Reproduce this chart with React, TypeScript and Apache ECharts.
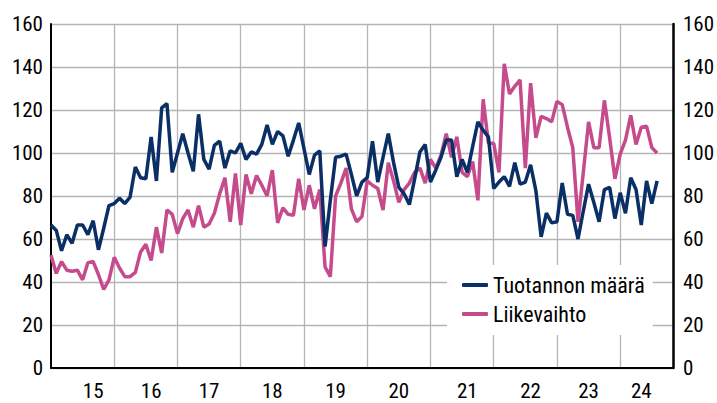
import React, { useEffect, useRef } from "react";
import * as echarts from "echarts";

const startYear = 2015;
const monthCount = 119;
const categories: string[] = Array.from(
  { length: monthCount },
  (_, i) => `${startYear + Math.floor(i / 12)}-${String((i % 12) + 1).padStart(2, "0")}`
);

const yearLabels = ["15", "16", "17", "18", "19", "20", "21", "22", "23", "24"];
const yearLabelIndex = [8, 19, 30, 42, 54, 66, 79, 91, 102, 112];

const seriesNames = ["Tuotannon määrä", "Liikevaihto"];

const tuotannonMaara = [
  66.5, 64, 54.5, 62, 58, 66.5, 66.5, 62, 68.5, 55, 65, 75.5,
  76.5, 79, 76.5, 79.5, 93.5, 88.5, 88, 107.5, 87, 121, 123, 91,
  100, 109, 100, 91.5, 118, 97, 92.5, 103.5, 105.5, 93, 101, 100,
  104.5, 97, 100.5, 99.5, 104, 113, 104, 110, 108, 98.5, 106, 114,
  102, 90, 99, 101, 56.5, 78, 98, 98.5, 99.5, 90, 80, 86.5,
  88.5, 105.5, 86.5, 98, 109, 95.5, 84, 81, 76, 88, 100.5, 104,
  86.5, 92, 98, 106, 106, 89, 97, 91, 103, 114.5, 110.5, 107.5,
  83.5, 86.5, 89, 84.5, 95.5, 85.5, 86.5, 94.5, 82.5, 61, 72, 67.5,
  68, 86, 71.5, 71, 60, 73, 85.5, 77, 68, 83, 84, 69.5,
  81.5, 72, 88.5, 83, 66.5, 87, 76.5, 87,
];

const liikevaihto = [
  52.5, 44, 49.5, 45.5, 45, 45.5, 41, 49, 49.5, 43.5, 36.5, 41,
  51.5, 46.5, 42.5, 42.5, 44.5, 54, 57.5, 50, 65.5, 53.5, 73.5, 71.5,
  62.5, 69.5, 73.5, 65.5, 75.5, 65.5, 67, 72, 81, 88.5, 68, 90.5,
  66.5, 90, 81, 89.5, 85, 80, 92, 67.5, 74.5, 71.5, 71, 88,
  73.5, 85, 74, 83, 47, 42.5, 80, 86, 93, 74, 68, 70.5,
  87, 85, 83.5, 73.5, 95.5, 87, 77, 83, 86, 91, 93, 86,
  97, 93, 99, 109, 98, 107.5, 91, 89, 96, 78, 125, 104.5,
  104.5, 91, 141.5, 127.5, 131, 134, 93, 132.5, 107, 117, 116, 114.5,
  124, 122.5, 112, 102.5, 68, 91, 114.5, 102.5, 102.5, 124.5, 107, 88,
  99.5, 106, 117.5, 104, 112, 112.5, 102.5, 100,
];

const navy = "#0a2f66";
const pink = "#c64b8c";
const gridGrey = "#b5b5b5";
const font = "'Liberation Sans Narrow', 'Roboto Condensed', 'DejaVu Sans Condensed', sans-serif";

export default function App() {
  const ref = useRef<HTMLDivElement>(null);

  useEffect(() => {
    document.body.style.margin = "0";
    if (!ref.current) return;
    const chart = echarts.init(ref.current, undefined, { renderer: "svg" });
    const yAxisCommon = {
      type: "value" as const,
      min: 0,
      max: 160,
      interval: 20,
      axisTick: { show: false },
      axisLabel: { color: "#000", fontSize: 21, fontFamily: font },
    };
    chart.setOption({
      animation: false,
      backgroundColor: "#fff",
      grid: { left: 51, right: 42, top: 24, bottom: 35, containLabel: false },
      legend: {
        data: seriesNames,
        orient: "vertical",
        left: 447,
        top: 265,
        padding: [8, 8, 9, 15],
        backgroundColor: "#fff",
        itemWidth: 26,
        itemHeight: 4,
        itemGap: 5,
        icon: "roundRect",
        textStyle: { color: "#000", fontSize: 22, lineHeight: 24, fontFamily: font },
      },
      xAxis: {
        type: "category",
        data: categories,
        boundaryGap: false,
        axisLine: { show: true, lineStyle: { color: "#000", width: 2 } },
        axisTick: { show: false },
        axisLabel: {
          interval: 0,
          margin: 12,
          color: "#000",
          fontSize: 21,
          fontFamily: font,
          formatter: (_v: string, idx: number) => {
            const k = yearLabelIndex.indexOf(idx);
            return k >= 0 ? yearLabels[k] : "";
          },
        },
        splitLine: {
          show: true,
          interval: (idx: number) => idx > 0 && idx % 12 === 0,
          lineStyle: { color: gridGrey, width: 1.3 },
        },
      },
      yAxis: [
        {
          ...yAxisCommon,
          position: "left",
          axisLine: { show: true, onZero: false, lineStyle: { color: "#000", width: 2 } },
          axisLabel: { ...yAxisCommon.axisLabel, margin: 8 },
          splitLine: { show: true, lineStyle: { color: gridGrey, width: 1.3 } },
        },
        {
          ...yAxisCommon,
          position: "right",
          axisLine: { show: true, onZero: false, lineStyle: { color: "#000", width: 2.5 } },
          axisLabel: { ...yAxisCommon.axisLabel, margin: 10 },
          splitLine: { show: false },
        },
      ],
      series: [
        {
          name: seriesNames[1],
          type: "line",
          data: liikevaihto,
          symbol: "none",
          color: pink,
          lineStyle: { color: pink, width: 3.5 },
        },
        {
          name: seriesNames[0],
          type: "line",
          data: tuotannonMaara,
          symbol: "none",
          color: navy,
          lineStyle: { color: navy, width: 3.5 },
        },
      ],
    });
    return () => chart.dispose();
  }, []);

  return <div ref={ref} style={{ width: 717, height: 403 }} />;
}
